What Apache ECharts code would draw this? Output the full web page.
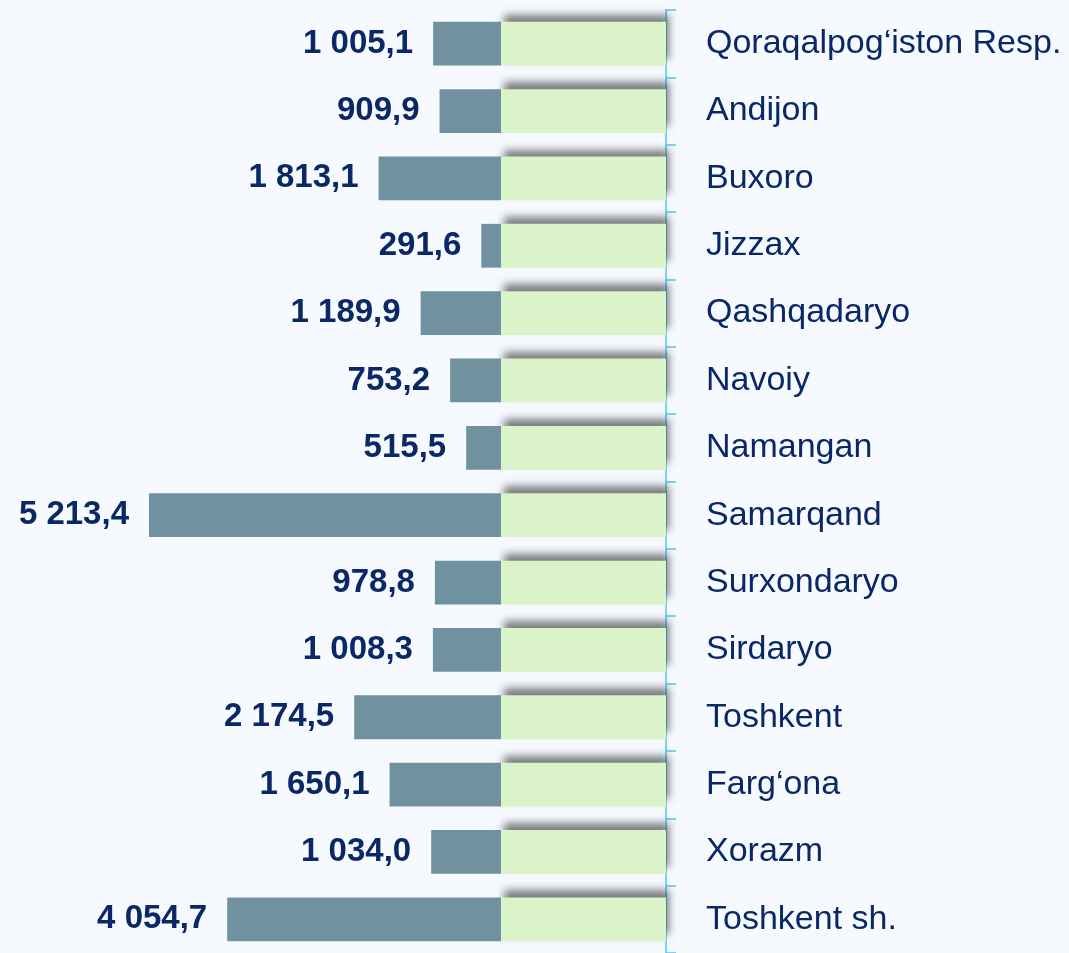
<!DOCTYPE html>
<html>
<head>
<meta charset="utf-8">
<script src="https://cdn.jsdelivr.net/npm/echarts@6/dist/echarts.min.js"></script>
<style>
html,body{margin:0;padding:0;background:#F6FAFE;}
#chart{width:1069px;height:953px;}
</style>
</head>
<body>
<div id="chart"></div>
<script>
const regions = ["Qoraqalpog‘iston Resp.","Andijon","Buxoro","Jizzax","Qashqadaryo","Navoiy","Namangan","Samarqand","Surxondaryo","Sirdaryo","Toshkent","Farg‘ona","Xorazm","Toshkent sh."];
const values = [1005.1, 909.9, 1813.1, 291.6, 1189.9, 753.2, 515.5, 5213.4, 978.8, 1008.3, 2174.5, 1650.1, 1034.0, 4054.7];
const backdrop = [2444, 2444, 2444, 2444, 2444, 2444, 2444, 2444, 2444, 2444, 2444, 2444, 2444, 2444];

function fmt(v){
  const s = Math.abs(v).toFixed(1).split('.');
  const int = s[0].replace(/\B(?=(\d{3})+(?!\d))/g, ' ');
  return int + ',' + s[1];
}
const navy = '#0B2866';
const chart = echarts.init(document.getElementById('chart'));
chart.setOption({
  backgroundColor: '#F6FAFE',
  animation: false,
  grid: {left: 0, right: 403, top: 10, height: 946, containLabel: false},
  xAxis: {type: 'value', min: -7420, max: 2444, show: false},
  yAxis: {
    type: 'category', data: regions, inverse: true, position: 'right',
    axisLine: {show: true, onZero: false, lineStyle: {color: '#55C6F0', width: 1.5}},
    axisTick: {show: true, length: 10, lineStyle: {color: '#55C6F0', width: 1.5}},
    axisLabel: {color: navy, fontSize: 34, fontFamily: 'Liberation Sans, Arial, sans-serif', margin: 40},
    splitLine: {show: false}
  },
  series: [
    {
      type: 'bar', data: backdrop, barWidth: '65%', barGap: '-100%',
      itemStyle: {color: '#DAF3C9', shadowColor: 'rgba(0,0,0,0.5)', shadowBlur: 8, shadowOffsetY: -7, shadowOffsetX: 3},
      z: 2
    },
    {
      type: 'bar', data: values.map(v => -v), barWidth: '65%', barGap: '-100%',
      itemStyle: {color: '#6F91A0'},
      label: {show: true, position: 'left', distance: 20, formatter: p => fmt(p.value),
        color: navy, fontSize: 33, fontWeight: 'bold', fontFamily: 'Liberation Sans, Arial, sans-serif'},
      z: 3
    }
  ]
});
</script>
</body>
</html>
